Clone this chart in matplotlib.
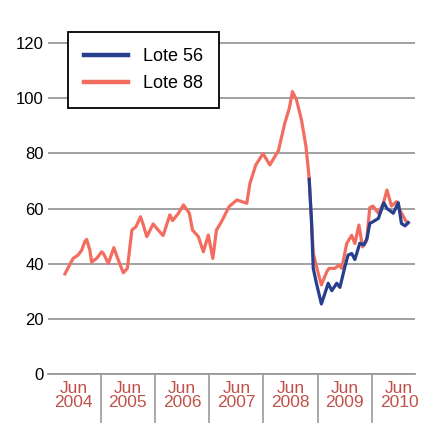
import matplotlib
matplotlib.use("Agg")
import matplotlib.pyplot as plt
from matplotlib.ticker import FixedLocator, FixedFormatter

# months since Jan 2004 (decimal) and index values
lote88_x = [4.1, 5.1, 5.9, 7.0, 7.8, 8.5, 8.9, 9.6, 10.0, 11.1, 12.2, 12.6,
            13.7, 14.9, 15.9, 17.0, 17.9, 18.9, 19.8, 20.8, 21.3, 22.2, 23.6,
            24.7, 25.8, 27.3, 27.9, 29.2, 30.3, 31.6, 32.3, 33.6, 34.7, 35.8,
            36.8, 37.6, 38.7, 40.4, 42.1, 44.3, 45.0, 46.3, 47.9, 49.4, 51.3,
            52.7, 53.7, 54.4, 55.3, 56.4, 57.4, 58.1, 59.0, 60.1, 60.8, 62.0,
            62.5, 63.8, 64.7, 65.3, 66.4, 67.5, 68.2, 69.1, 69.9, 70.8, 71.5,
            72.2, 73.4, 74.5, 75.3, 76.3, 77.4, 78.3, 79.5, 80.0]
lote88_y = [36.3, 39.5, 41.9, 43.1, 44.9, 48.0, 48.8, 44.9, 40.6, 41.9, 44.3,
            43.7, 40.1, 45.8, 41.3, 36.7, 38.3, 52.2, 53.4, 57.0, 54.7, 49.8,
            54.4, 52.2, 50.2, 57.7, 55.6, 58.3, 61.3, 58.3, 52.2, 49.8, 44.3,
            50.4, 41.9, 52.2, 55.2, 60.7, 63.1, 61.9, 69.1, 75.8, 79.9, 75.8,
            81.0, 90.9, 96.3, 102.4, 99.4, 92.1, 82.4, 71.0, 43.8, 36.5, 32.3,
            37.1, 38.3, 38.3, 39.5, 38.3, 47.3, 50.3, 47.3, 54.0, 46.1, 48.3,
            60.3, 60.9, 58.3, 61.9, 66.7, 60.9, 62.5, 59.0, 55.4, 54.8]

lote56_x = [58.1, 58.6, 59.0, 59.7, 60.8, 61.6, 62.3, 63.1, 64.2, 64.9, 66.0,
            66.7, 67.5, 68.2, 69.3, 70.2, 70.9, 71.5, 72.2, 73.4, 74.6, 75.3,
            76.7, 77.8, 78.5, 79.3, 80.0]
lote56_y = [70.6, 56.0, 38.3, 32.9, 25.4, 29.3, 32.9, 30.2, 32.9, 31.4, 38.9,
            43.1, 43.7, 41.5, 47.4, 46.8, 49.2, 54.6, 55.2, 56.4, 62.1, 60.0,
            58.3, 62.1, 54.6, 53.7, 54.9]

years = ["2004", "2005", "2006", "2007", "2008", "2009", "2010"]
y_ticks = [0, 20, 40, 60, 80, 100, 120]

BLUE = "#263F8E"
ORANGE = "#F26D5F"
LABEL_RED = "#C0514A"
GRID = "#9A9A9A"

plt.rcParams["font.family"] = ["Liberation Sans", "DejaVu Sans"]

fig = plt.figure(figsize=(4.21, 4.23), dpi=100)
ax = fig.add_axes([48 / 421, 49 / 423, 367 / 421, 336.5 / 423])

ax.plot(lote88_x, lote88_y, color=ORANGE, lw=2.3, label="Lote 88", zorder=2)
ax.plot(lote56_x, lote56_y, color=BLUE, lw=2.3, label="Lote 56", zorder=3)

ax.set_xlim(0.35, 81.5)
ax.set_ylim(0, 122)

for s in ["top", "right", "left"]:
    ax.spines[s].set_visible(False)
ax.spines["bottom"].set_color(GRID)
ax.spines["bottom"].set_linewidth(1.3)

ax.set_yticks(y_ticks)
ax.set_yticklabels([str(v) for v in y_ticks], fontsize=12)
ax.tick_params(axis="y", length=0, pad=3)
ax.yaxis.grid(True, color=GRID, lw=1.3)
ax.set_axisbelow(True)

# year separators and centred labels
ax.xaxis.set_major_locator(FixedLocator([12 * k for k in range(1, 7)]))
ax.xaxis.set_major_formatter(FixedFormatter([""] * 6))
ax.xaxis.set_minor_locator(FixedLocator([6 + 12 * k for k in range(7)]))
ax.xaxis.set_minor_formatter(FixedFormatter(["Jun\n" + y for y in years]))
ax.tick_params(axis="x", which="major", length=36, width=1.2, color=GRID)
ax.tick_params(axis="x", which="minor", length=0, pad=5, labelsize=12.5,
               labelcolor=LABEL_RED)
for lbl in ax.xaxis.get_minorticklabels():
    lbl.set_linespacing(0.95)

handles, labels = ax.get_legend_handles_labels()
leg = fig.legend(handles[::-1], labels[::-1], loc="upper left",
                 bbox_to_anchor=(68 / 421, 1 - 32 / 423),
                 fontsize=13, fancybox=False, framealpha=1,
                 edgecolor="black", handlelength=2.4, handletextpad=0.85,
                 borderpad=0.9, labelspacing=0.55, borderaxespad=0)
leg.get_frame().set_linewidth(1.3)
for h in leg.get_lines():
    h.set_linewidth(3.2)

fig.savefig("out.png", dpi=100)
